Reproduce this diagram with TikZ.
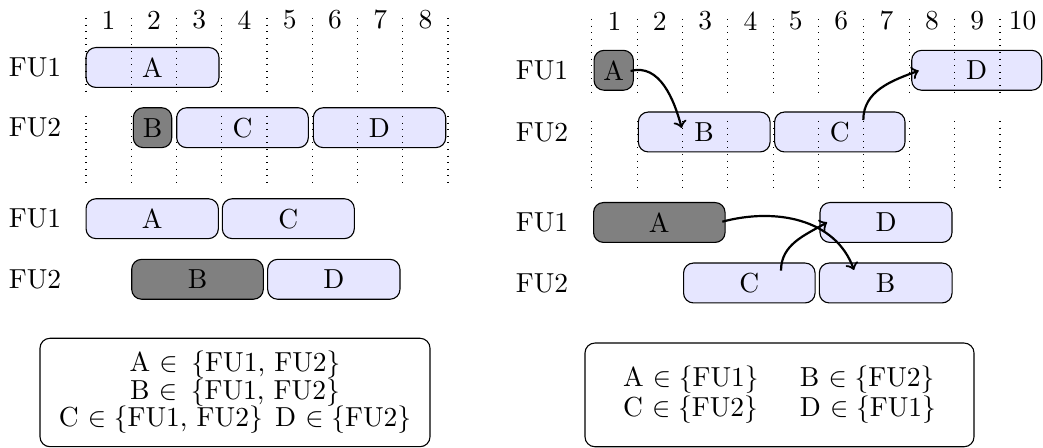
\documentclass[tikz,border=0pt]{standalone}
\usetikzlibrary{calc}
\definecolor{taskfill}{RGB}{230,230,255}
\tikzset{
  task/.style={draw, fill=taskfill, rounded corners=3.6pt, minimum height=14.5pt, inner sep=0pt},
  busy/.style={task, fill=gray},
  bw/.style={minimum width=#1*0.3636pt},
  grid/.style={dotted},
  dep/.style={->, thick},
  cond/.style={draw, rounded corners=3.6pt, align=center, inner sep=0pt},
}
\begin{document}
\begin{tikzpicture}[x=0.3636pt, y=-0.3636pt]
\useasboundingbox (0,0) rectangle (1043,448);

% ---------- left: flexible assignment ----------
\node (lfu1) at (35,67.5) {FU1};
\node (lfu2) at (35,127.7) {FU2};
\foreach \i in {1,...,8}
  \node (lnum\i) at ({86+45.25*(\i-0.5)},20) {\i};

\node[task, bw=133]   (lA) at (152.5,67.5) {A};
\node[busy, bw=38.4]  (lB) at (152.5,127.7) {B};
\node[task, bw=131.6] (lC) at (242.5,127.7) {C};
\node[task, bw=132.4] (lD) at (379.5,127.7) {D};

\foreach \i in {0,...,8} {
  \draw[grid] ({86+45.25*\i},18) -- ++(0,78);
  \draw[grid] ({86+45.25*\i},116) -- ++(0,72);
}

\node (lfu1b) at (35,218.7) {FU1};
\node (lfu2b) at (35,279.3) {FU2};
\node[task, bw=132.3] (lA2) at (152.2,218.7) {A};
\node[task, bw=132]   (lC2) at (288.3,218.7) {C};
\node[busy, bw=131.6] (lB2) at (197.5,279.3) {B};
\node[task, bw=132.3] (lD2) at (333.8,279.3) {D};

\node[cond, minimum width=390*0.3636pt, minimum height=108.4*0.3636pt] (lcond) at (235,392.5)
  {A $\in$\hspace{5pt}$\{$FU1, FU2$\}$\\[-2pt]
   B $\in$\hspace{5pt}$\{$FU1, FU2$\}$\\[-2pt]
   C $\in\{$FU1, FU2$\}$\hspace{4.5pt}D $\in\{$FU2$\}$};

% ---------- right: fixed assignment ----------
\node (rfu1) at (542,70.3) {FU1};
\node (rfu2) at (542,132) {FU2};
\foreach \i in {1,...,10}
  \node (rnum\i) at ({591.7+45.37*(\i-0.5)},21) {\i};

\node[busy, bw=39.3]  (rA) at (613.7,70.3) {A};
\node[task, bw=130]   (rD) at (976.7,70.3) {D};
\node[task, bw=131.7] (rB) at (704.2,132) {B};
\node[task, bw=130.4] (rC) at (839.8,132) {C};

\foreach \i in {0,...,9} {
  \draw[grid] ({591.7+45.37*\i},19) -- ++(0,78);
  \draw[grid] ({591.7+45.37*\i},121) -- ++(0,70);
}

\draw[dep] ($(rA.east)+(-3.3,0.7)$) to[out=15,in=105] ($(rB.center)+(-22.5,-4)$);
\draw[dep] ($(rC.center)+(23.5,-12)$) to[out=90,in=200] ($(rD.west)+(7.6,0.4)$);

\node (rfu1b) at (542,222.5) {FU1};
\node (rfu2b) at (542,283) {FU2};
\node[busy, bw=131.5] (rA2) at (659.3,222.5) {A};
\node[task, bw=132]   (rD2) at (886,222.5) {D};
\node[task, bw=131.5] (rC2) at (749.3,283) {C};
\node[task, bw=132.7] (rB2) at (885.7,283) {B};

\draw[dep] ($(rA2.east)+(-3.3,-0.8)$) to[out=15,in=110] ($(rB2.center)+(-31.7,-13)$);
\draw[dep] ($(rC2.center)+(31.7,-12.3)$) to[out=90,in=210] ($(rD2.west)+(7.7,-0.2)$);

\node[cond, minimum width=389*0.3636pt, minimum height=103.7*0.3636pt] (rcond) at (779.5,394.9)
  {\begin{tabular}{l@{\hspace{15pt}}l}
   A $\in\{$FU1$\}$ & B $\in\{$FU2$\}$\\[-1pt]
   C $\in\{$FU2$\}$ & D $\in\{$FU1$\}$
   \end{tabular}};
\end{tikzpicture}
\end{document}
